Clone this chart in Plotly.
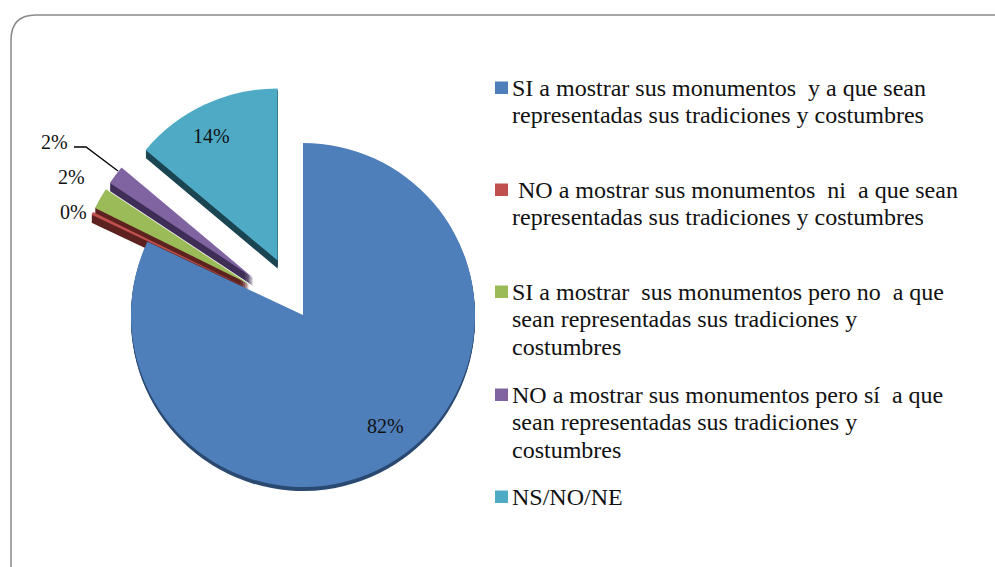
import plotly.graph_objects as go

W, H = 995, 567

categories = [
    ["SI a mostrar sus monumentos\u00a0 y a que sean", "representadas sus tradiciones y costumbres"],
    ["\u00a0NO a mostrar sus monumentos\u00a0 ni\u00a0 a que sean", "representadas sus tradiciones y costumbres"],
    ["SI a mostrar\u00a0 sus monumentos pero no\u00a0 a que", "sean representadas sus tradiciones y", "costumbres"],
    ["NO a mostrar sus monumentos pero sí\u00a0 a que", "sean representadas sus tradiciones y", "costumbres"],
    ["NS/NO/NE"],
]
values = [82.0, 0.3, 2.0, 1.8, 13.9]
pct_labels = ["82%", "0%", "2%", "2%", "14%"]
pull = [0, 0.36, 0.36, 0.36, 0.35]

colors = ["#4f7fba", "#c0504d", "#9bbb59", "#8064a2", "#4fabc5"]
side_colors = ["#2b4a72", "#5e2320", "#5e2320", "#3f2e57", "#1c4653"]
side_deep = ["rgba(0,0,0,0)", "#5e2320", "#5e2320", "#3f2e57", "#1c4653"]

# pixel spots for the text, same order as categories
pct_xy = [(385, 426), (73, 212), (71, 177), (54, 142), (211, 136)]
legend_y = [88, 190, 292, 395, 497]

CX, CY, R = 303, 315, 172
LINE_GAP = 27.3


def px(x):
    return x / W


def py(y):
    return 1 - y / H


def pie_trace(dy, cols):
    half = R * (1 + max(pull))
    return go.Pie(
        values=values,
        pull=pull,
        sort=False,
        direction="clockwise",
        rotation=0,
        automargin=False,
        textinfo="none",
        hoverinfo="skip",
        showlegend=False,
        marker=dict(colors=cols, line=dict(width=0)),
        domain=dict(
            x=[px(CX - half), px(CX + half)],
            y=[py(CY + dy + half), py(CY + dy - half)],
        ),
    )


fig = go.Figure()
# stacked copies give the slices their depth, the blue one gets a thinner rim
for d in range(8, 0, -1):
    fig.add_trace(pie_trace(d, side_deep if d > 4 else side_colors))
fig.add_trace(pie_trace(0, colors))

for txt, (x, y) in zip(pct_labels, pct_xy):
    fig.add_annotation(
        x=px(x), y=py(y), xref="paper", yref="paper", text=txt, showarrow=False,
        xanchor="center", yanchor="middle", font=dict(color="#111111", size=20),
    )

shapes = [
    # frame of the slide, open at the bottom
    dict(
        type="path", xref="paper", yref="paper",
        path=f"M {px(11)} {py(567)} L {px(11)} {py(40)} Q {px(11)} {py(15)} {px(36)} {py(15)} L {px(995)} {py(15)}",
        line=dict(color="#8a8a8a", width=1.5),
    ),
    # leader for the purple slice
    dict(
        type="path", xref="paper", yref="paper",
        path=f"M {px(74)} {py(147)} L {px(86)} {py(147)} L {px(118)} {py(171)}",
        line=dict(color="#000000", width=1.3),
    ),
]
for col, y in zip(colors, legend_y):
    shapes.append(dict(
        type="rect", xref="paper", yref="paper",
        x0=px(495), x1=px(508), y0=py(y - 6.5), y1=py(y + 6),
        fillcolor=col, line=dict(width=0),
    ))

for lines, y in zip(categories, legend_y):
    for i, txt in enumerate(lines):
        fig.add_annotation(
            x=px(511), y=py(y + i * LINE_GAP), xref="paper", yref="paper", text=txt, showarrow=False,
            xanchor="left", yanchor="middle", align="left", font=dict(color="#111111", size=24),
            borderpad=0,
        )

fig.update_layout(
    template="none",
    width=W,
    height=H,
    margin=dict(l=0, r=0, t=0, b=0),
    paper_bgcolor="white",
    font=dict(family="Liberation Serif"),
    showlegend=False,
    shapes=shapes,
)

fig.write_html("out.html", config=dict(displayModeBar=False), post_script="document.body.style.margin='0';")
